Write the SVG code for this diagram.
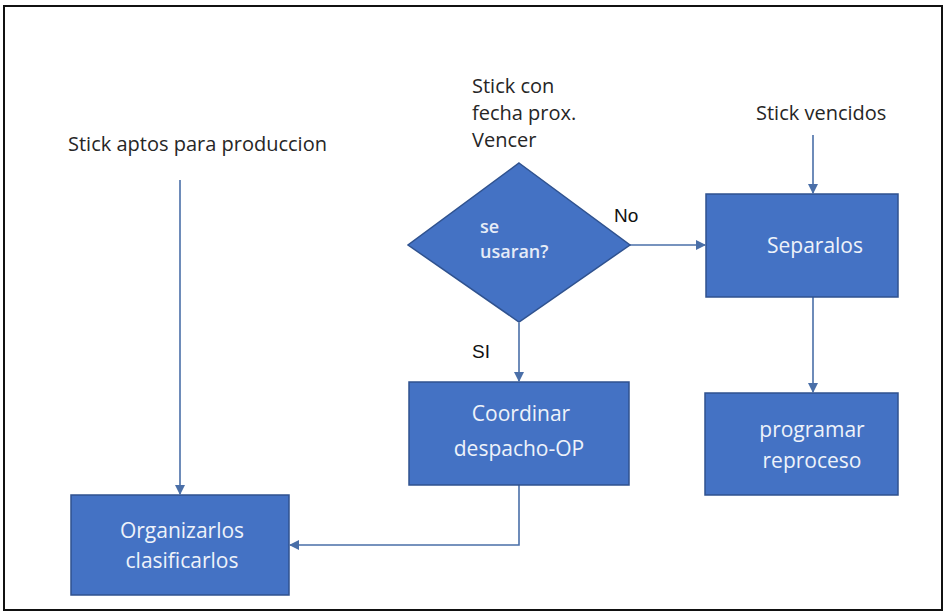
<svg xmlns="http://www.w3.org/2000/svg" width="946" height="614" viewBox="0 0 946 614">
<style>
.box{fill:#4472C4;stroke:#2F528F;stroke-width:1.5}
.bt{font-family:"Open Sans","Liberation Sans",sans-serif;font-size:21px;fill:#EEF2FA;text-anchor:middle}
.dt{font-family:"Open Sans","Liberation Sans",sans-serif;font-size:18px;font-weight:600;fill:#E6ECF7}
.lbl{font-family:"Open Sans","Liberation Sans",sans-serif;font-size:20px;fill:#262626}
.yn{font-family:"Liberation Sans",sans-serif;font-size:19px;fill:#111}
.con{fill:none;stroke:#4A6FA8;stroke-width:1.6}
</style>
<defs>
<marker id="ah" viewBox="0 0 10 10" refX="9" refY="5" markerWidth="10" markerHeight="10" markerUnits="userSpaceOnUse" orient="auto">
<path d="M0,0 L10,5 L0,10 z" fill="#4A6FA8"/>
</marker>
</defs>
<rect x="0" y="0" width="946" height="614" fill="#fff"/>
<rect x="4" y="6" width="938" height="604" fill="none" stroke="#111" stroke-width="2"/>
<g id="connectors">
<path class="con" d="M180,180 V494" marker-end="url(#ah)"/>
<path class="con" d="M813,135 V193" marker-end="url(#ah)"/>
<path class="con" d="M630,245 H705" marker-end="url(#ah)"/>
<path class="con" d="M519,323 V381" marker-end="url(#ah)"/>
<path class="con" d="M813,297 V392" marker-end="url(#ah)"/>
<path class="con" d="M519,485 V545 H290" marker-end="url(#ah)"/>
</g>
<g id="lbl-aptos"><text class="lbl" x="68" y="151">Stick aptos para produccion</text></g>
<g id="lbl-proxvencer"><text class="lbl" x="472" y="93">Stick con</text><text class="lbl" x="472" y="120">fecha prox.</text><text class="lbl" x="472" y="147">Vencer</text></g>
<g id="lbl-vencidos"><text class="lbl" x="756" y="120">Stick vencidos</text></g>
<g id="lbl-no"><text class="yn" x="614" y="222">No</text></g>
<g id="lbl-si"><text class="yn" x="472" y="358">SI</text></g>
<g id="decision">
<polygon class="box" points="519,163 630,245 519,322 408,245"/>
<text class="dt" x="480" y="233">se</text>
<text class="dt" x="480" y="258">usaran?</text>
</g>
<g id="separalos">
<rect class="box" x="706" y="194" width="192" height="103"/>
<text class="bt" x="815" y="253">Separalos</text>
</g>
<g id="programar">
<rect class="box" x="705" y="393" width="193" height="102"/>
<text class="bt" x="812" y="437">programar</text>
<text class="bt" x="812" y="468">reproceso</text>
</g>
<g id="coordinar">
<rect class="box" x="409" y="382" width="220" height="103"/>
<text class="bt" x="521" y="421">Coordinar</text>
<text class="bt" x="519" y="456">despacho-OP</text>
</g>
<g id="organizar">
<rect class="box" x="71" y="495" width="218" height="100"/>
<text class="bt" x="182" y="538">Organizarlos</text>
<text class="bt" x="182" y="568">clasificarlos</text>
</g>
</svg>
